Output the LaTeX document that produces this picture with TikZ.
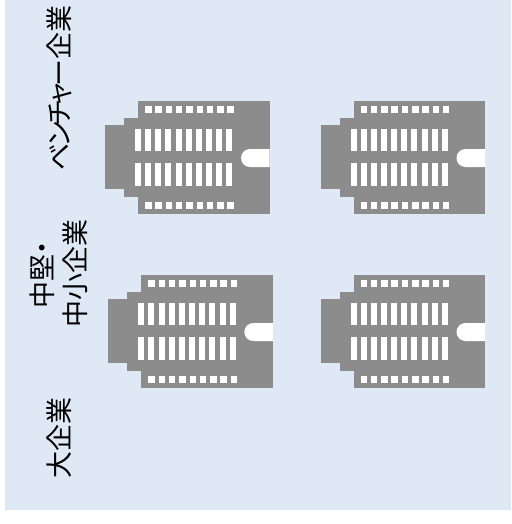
\documentclass[tikz,border=0pt]{standalone}
\usepackage{fontspec}
\usepackage{xcolor}
\newfontfamily\cjk[RawFeature=+palt]{Noto Sans CJK JP}
\newfontfamily\cjkkana[RawFeature=+palt,LetterSpace=-12.5]{Noto Sans CJK JP}
\definecolor{panelblue}{HTML}{DEE9F5}
\definecolor{bldggray}{HTML}{8C8C8C}
\tikzset{
  label/.style={font=\cjk\fontsize{27}{33}\selectfont, rotate=90, align=center, inner sep=0pt, text=black},
  bldgbody/.style={fill=bldggray, draw=none},
  bldgwin/.style={fill=white, draw=none},
  bldg/.pic={
    % 建物の本体
    \fill[bldgbody] (0,24) rectangle (19,88);
    \fill[bldgbody] (19,17) rectangle (33,96);
    \fill[bldgbody] (33,0) rectangle (164.5,113);
    % 小さい窓
    \foreach \i in {0,...,8} {
      \fill[bldgwin] (40+10.3*\i,5) rectangle ++(6.5,7);
      \fill[bldgwin] (40+10.3*\i,101) rectangle ++(6.5,7);
    }
    % 長い窓
    \foreach \i in {0,...,9} {
      \fill[bldgwin] (30+10.15*\i,28) rectangle ++(6,22);
      \fill[bldgwin] (30+10.15*\i,62) rectangle ++(6,23);
    }
    % 入口
    \fill[bldgwin] (164.5,48) -- (145,48) arc [start angle=270, end angle=90, radius=9] -- (164.5,66) -- cycle;
  }
}
\begin{document}
\begin{tikzpicture}[x=1pt,y=-1pt]
  \useasboundingbox (0,0) rectangle (511,524);
  % 背景
  \fill[panelblue] (5,0) rectangle (511,510);

  % 建物
  \pic at (105,101) {bldg};
  \pic at (320.5,101) {bldg};
  \pic at (108.3,275) {bldg};
  \pic at (320.5,275) {bldg};

  % ラベル
  \node[label] (venture) at (59.5,88) {{\cjkkana ベンチャー}企業};
  \node[label] (chuken) at (42.5,275) {中堅・};
  \node[label] (chusho) at (75.5,273) {中小企業};
  \node[label] (daikigyo) at (59.5,437.5) {大企業};
\end{tikzpicture}
\end{document}
